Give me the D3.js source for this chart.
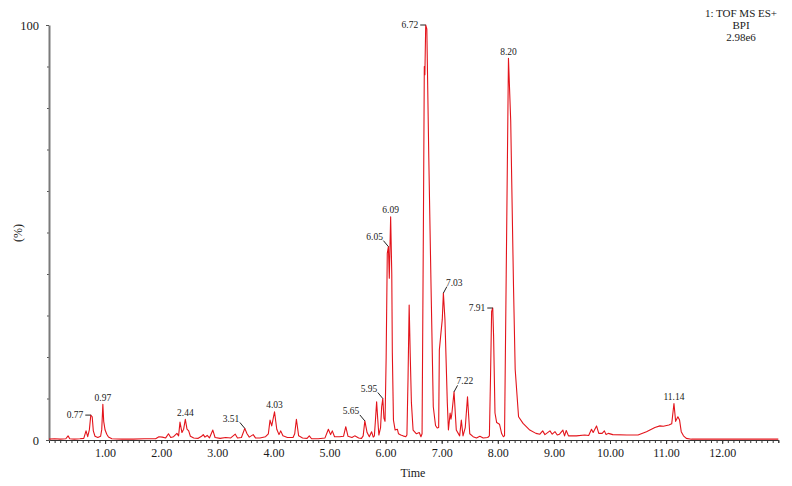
<!DOCTYPE html>
<html><head><meta charset="utf-8">
<script src="https://cdn.jsdelivr.net/npm/d3@7"></script>
<style>
body{margin:0;background:#fff}
svg{display:block}
text{font-family:"Liberation Serif","DejaVu Serif",serif;fill:#1a1a1a}
</style>
</head><body>
<svg id="chart" width="792" height="486"></svg>
<script>
// ---- data (retention time in minutes, BPI intensity in % of 2.98e6) ----
const retentionTimes = [
 0.00,0.10,0.20,0.30,0.34,0.37,0.45,0.55,0.62,0.66,0.69,0.72,0.745,0.77,0.79,0.82,0.87,0.92,0.94,0.96,0.975,
 1.00,1.03,1.06,1.12,1.30,1.50,1.70,1.90,1.96,2.02,2.08,2.13,2.17,2.22,2.28,2.31,2.335,2.37,2.40,2.43,2.46,2.49,2.52,
 2.58,2.66,2.72,2.75,2.78,2.82,2.86,2.92,2.96,3.05,3.15,3.24,3.32,3.36,3.43,3.49,3.53,3.57,3.64,3.68,3.76,3.86,3.91,
 3.94,3.97,4.02,4.06,4.10,4.13,4.17,4.25,4.35,4.38,4.41,4.45,4.52,4.60,4.64,4.68,4.80,4.92,4.98,5.02,5.05,5.09,5.18,
 5.25,5.29,5.33,5.40,5.45,5.52,5.57,5.60,5.63,5.67,5.71,5.75,5.78,5.80,5.82,5.84,5.86,5.88,5.91,5.93,5.95,5.97,5.99,
 6.01,6.03,6.05,6.066,6.09,6.11,6.12,6.14,6.17,6.21,6.23,6.27,6.31,6.36,6.38,6.40,6.42,6.44,6.46,6.49,6.55,6.60,6.63,
 6.65,6.673,6.69,6.70,6.715,6.735,6.77,6.81,6.85,6.89,6.92,6.946,6.958,6.988,7.01,7.03,7.058,7.10,7.12,7.15,7.165,7.18,
 7.22,7.26,7.32,7.35,7.38,7.42,7.46,7.50,7.56,7.62,7.68,7.74,7.82,7.85,7.87,7.89,7.91,7.925,7.95,7.98,8.03,8.07,8.10,
 8.12,8.15,8.19,8.23,8.28,8.31,8.37,8.45,8.57,8.68,8.75,8.80,8.84,8.93,8.97,9.02,9.06,9.10,9.16,9.19,9.22,9.26,9.40,
 9.55,9.62,9.67,9.70,9.76,9.80,9.86,9.90,9.93,9.97,10.05,10.30,10.50,10.65,10.80,10.89,10.95,11.05,11.10,11.14,11.17,
 11.21,11.24,11.27,11.31,11.36,11.45,12.00,12.50,13.00
];
const bpiPercent = [
 0.2,0.3,0.2,0.3,1.0,0.3,0.2,0.3,0.4,2.2,0.8,2.5,6.0,5.6,2.2,0.9,0.6,0.9,2.5,8.6,4.5,
 2.4,1.4,0.7,0.3,0.2,0.2,0.3,0.3,0.8,0.7,0.5,1.5,0.6,0.8,1.6,1.0,4.3,1.8,2.6,5.0,2.6,2.2,0.9,
 0.5,0.4,0.9,1.3,0.7,1.1,0.5,2.4,0.6,0.4,0.6,0.5,1.4,0.5,0.6,2.8,1.5,0.7,1.3,0.5,0.5,0.8,1.5,
 4.8,3.4,6.8,2.6,1.3,2.2,1.0,0.6,0.6,1.5,5.0,1.0,0.5,0.4,1.0,0.3,0.3,0.5,2.6,1.3,2.2,0.8,0.8,
 0.9,3.2,0.9,0.6,1.0,0.5,0.4,1.0,4.6,1.8,0.8,2.0,0.7,1.0,5.0,9.2,5.0,1.2,3.0,8.0,10.0,5.3,4.5,
 20,45,46.6,39,53.8,40,21,4.8,2.4,2.6,1.5,1.2,1.0,0.8,1.2,15,32.5,20,9,2.4,1.5,1.8,0.8,
 1.5,50,90,88,100,99,68,37,8,3.5,2.9,3,21.7,26,29,35.4,29,9,2.4,6.5,5,6.2,
 11.6,2.4,1.0,4.8,1.0,3,10.4,1.5,0.8,0.5,0.9,0.5,0.6,1.0,15,31,31.8,25,6.5,4.2,3.8,1.5,0.8,
 1.0,40,92,77,37,17,5.6,4.0,2.4,1.6,1.4,2.2,1.3,2.2,1.4,2.0,1.2,1.4,2.4,1.0,2.3,1.0,1.0,
 1.2,1.1,2.6,1.8,3.4,1.6,1.6,2.2,1.3,1.6,1.3,1.2,1.2,2.0,3.0,3.4,3.3,3.6,3.9,8.8,4.5,
 5.6,4.8,2,1,0.4,0.2,0.2,0.2,0.2
];
const peakLabels = ["0.77","0.97","2.44","3.51","4.03","5.65","5.95","6.05","6.09","6.72","7.03","7.22","7.91","8.20","11.14"];
const xTickValues = [1,2,3,4,5,6,7,8,9,10,11,12];
const yTickValues = [0,100];
const headerLines = ["1: TOF MS ES+","BPI","2.98e6"];
const xAxisTitle = "Time";
const yAxisTitle = "(%)";

// ---- layout (not data) ----
const labelPlacement = {
 "0.77":"left","0.97":"top","2.44":"top","3.51":"upleft","4.03":"top","5.65":"upleft","5.95":"upleft",
 "6.05":"upleft","6.09":"top","6.72":"left","7.03":"upright","7.22":"upright","7.91":"left","8.20":"top","11.14":"top"
};
const red = "#e3141b";

const svg = d3.select("#chart");
const x = d3.scaleLinear().domain([0,13]).range([49,778.3]);
const y = d3.scaleLinear().domain([0,100]).range([440,25]);

const data = retentionTimes.map((t,i)=>({t, v:bpiPercent[i]}));

// x axis: minor ticks every 0.1, labelled majors
const minor = d3.range(0,131).map(i=>i/10);
svg.append("g").attr("transform","translate(0,440)")
  .call(d3.axisBottom(x).tickValues(minor).tickSize(3).tickFormat(""))
  .call(g=>{g.select(".domain").attr("stroke","#333").attr("stroke-width",1);
            g.selectAll(".tick line").attr("stroke","#333");});
svg.append("g").attr("transform","translate(0,440)")
  .call(d3.axisBottom(x).tickValues(xTickValues).tickSize(4).tickPadding(4).tickFormat(d3.format(".2f")))
  .call(g=>{g.select(".domain").remove();
            g.selectAll(".tick line").attr("stroke","#333");
            g.selectAll("text").attr("font-size",12).attr("font-family",null).attr("fill","#1a1a1a");});

// y axis
svg.append("g").attr("transform","translate(49,0)")
  .call(d3.axisLeft(y).tickValues(d3.range(10,100,10)).tickSize(2).tickFormat(""))
  .call(g=>{g.select(".domain").remove(); g.selectAll(".tick line").attr("stroke","#555");});
svg.append("g").attr("transform","translate(49,0)")
  .call(d3.axisLeft(y).tickValues(yTickValues).tickSizeInner(3).tickSizeOuter(0).tickPadding(7))
  .call(g=>{g.select(".domain").attr("stroke","#7a7a7a").attr("stroke-width",2);
            g.selectAll(".tick line").attr("stroke","#555");
            g.selectAll("text").attr("font-size",12.5).attr("font-family",null).attr("fill","#1a1a1a");});

// trace
svg.append("path").datum(data)
  .attr("fill","none").attr("stroke",red).attr("stroke-width",1.1).attr("stroke-linejoin","round")
  .attr("d", d3.line().x(d=>x(d.t)).y(d=>y(d.v)));

// peak labels
const lab = svg.append("g").attr("font-size",9.5);
peakLabels.forEach(s=>{
  const rt = +s;
  const near = data.filter(d=>Math.abs(d.t-rt)<=0.035);
  const apex = near.reduce((a,b)=> b.v>a.v?b:a);
  const px = x(apex.t), py = y(apex.v);
  const mode = labelPlacement[s];
  if(mode==="top"){
    lab.append("text").attr("x",px).attr("y",py-3.5).attr("text-anchor","middle").text(s);
  } else if(mode==="left"){
    lab.append("line").attr("x1",px-5.5).attr("x2",px).attr("y1",py).attr("y2",py).attr("stroke","#222").attr("stroke-width",1);
    lab.append("text").attr("x",px-7.5).attr("y",py+3.3).attr("text-anchor","end").text(s);
  } else if(mode==="upleft"){
    lab.append("line").attr("x1",px).attr("y1",py).attr("x2",px-5).attr("y2",py-6).attr("stroke","#222").attr("stroke-width",1);
    lab.append("text").attr("x",px-5.5).attr("y",py-6.5).attr("text-anchor","end").text(s);
  } else {
    lab.append("line").attr("x1",px).attr("y1",py).attr("x2",px+3.5).attr("y2",py-6.5).attr("stroke","#222").attr("stroke-width",1);
    lab.append("text").attr("x",px+2.5).attr("y",py-7.5).attr("text-anchor","start").text(s);
  }
});

// header
const hdr = svg.append("text").attr("font-size",11).attr("text-anchor","middle");
headerLines.forEach((s,i)=>hdr.append("tspan").attr("x",741).attr("y",16.5+i*12.2).text(s));

// axis titles
svg.append("text").attr("x",413).attr("y",477).attr("text-anchor","middle").attr("font-size",12).text(xAxisTitle);
svg.append("text").attr("transform","translate(22,233) rotate(-90)").attr("text-anchor","middle").attr("font-size",12).text(yAxisTitle);
</script>
</body></html>
